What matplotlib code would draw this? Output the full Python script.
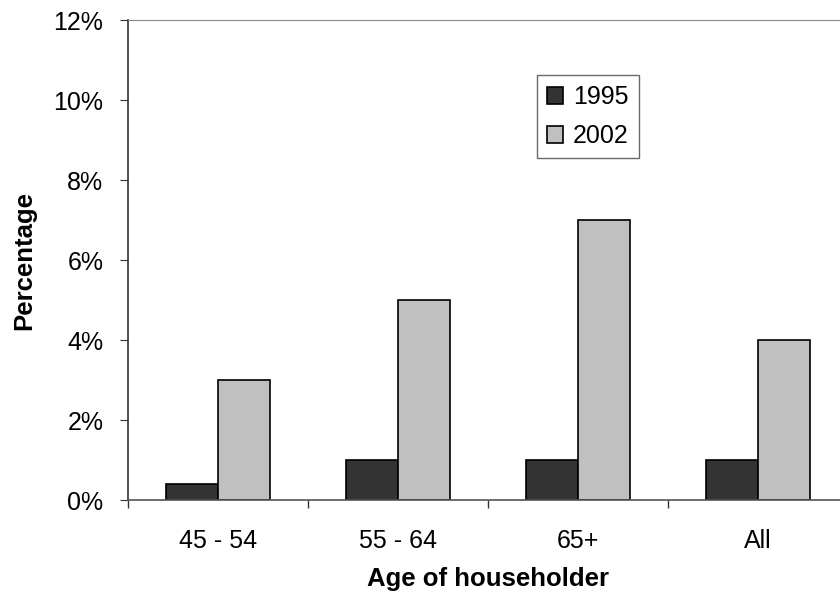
import matplotlib.pyplot as plt
import numpy as np

plt.rcParams["font.family"] = ["Liberation Sans", "DejaVu Sans"]

categories = ["45 - 54", "55 - 64", "65+", "All"]
years = ["1995", "2002"]
vals_1995 = [0.4, 1.0, 1.0, 1.0]
vals_2002 = [3.0, 5.0, 7.0, 4.0]

fig = plt.figure(figsize=(8.4, 5.96), dpi=100)
ax = fig.add_axes([128 / 840, 96 / 596, 720 / 840, 480 / 596])

x = np.arange(len(categories))
w = 0.288
ax.bar(x - w / 2, vals_1995, w, color="#333333", edgecolor="black", linewidth=1.2, label=years[0])
ax.bar(x + w / 2, vals_2002, w, color="#c0c0c0", edgecolor="black", linewidth=1.2, label=years[1])

ax.set_xlim(-0.5, len(categories) - 0.5)
ax.set_ylim(0, 12)
ax.set_yticks(np.arange(0, 13, 2))
ax.set_yticklabels([f"{v}%" for v in range(0, 13, 2)])
ax.set_xticks(x)
ax.set_xticklabels(categories)
ax.set_xticks(np.arange(-0.5, len(categories), 1), minor=True)
ax.tick_params(axis="x", which="major", length=0, pad=21, labelsize=18)
ax.tick_params(axis="x", which="minor", length=5.8, direction="out", width=1, color="#333333")
ax.tick_params(axis="y", length=5.8, direction="out", labelsize=18, pad=12, color="#333333")

ax.spines["right"].set_visible(False)
ax.spines["top"].set_color("#888888")
ax.spines["left"].set_color("#333333")
ax.spines["bottom"].set_color("#555555")
ax.spines["left"].set_linewidth(1.2)
ax.spines["bottom"].set_linewidth(1.2)

ax.set_ylabel("Percentage", fontsize=18.5, fontweight="bold", labelpad=12)
ax.set_xlabel("Age of householder", fontsize=18.5, fontweight="bold", labelpad=10)

leg = ax.legend(loc="upper left", bbox_to_anchor=(0.568, 0.885), borderaxespad=0,
                fontsize=18, frameon=True, fancybox=False, edgecolor="#444444",
                handlelength=0.64, handleheight=0.64, handletextpad=0.4,
                labelspacing=0.6, borderpad=0.4)
leg.get_frame().set_linewidth(1.0)

fig.savefig("out.png", dpi=100)
